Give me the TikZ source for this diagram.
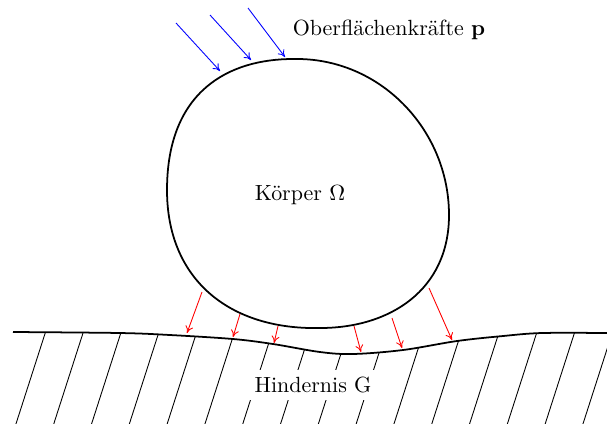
\documentclass[tikz,border=0pt]{standalone}
\usetikzlibrary{arrows.meta}
\begin{document}
\begin{tikzpicture}[x=0.455pt,y=-0.455pt,
  outline/.style={line width=0.8pt},
  hatch/.style={line width=0.4pt},
  pforce/.style={blue,line width=0.4pt,-{To[length=3.2pt,width=3.6pt]}},
  cforce/.style={red,line width=0.4pt,-{To[length=3.2pt,width=3.6pt]}},
  lbl/.style={font=\normalsize}]
\useasboundingbox (0,0) rectangle (607,423);
% hatching below obstacle surface
\begin{scope}
  \clip plot[smooth,tension=0.55] coordinates {(13,332) (120,333) (170,335) (233,339) (273,344) (320,352) (353,354) (403,350) (457,341) (503,336) (542,333) (607,333)} -- (607,430) -- (13,430) -- cycle;
  \foreach \i in {0,...,16} {
    \draw[hatch] ({14+37.8*\i},430) -- ({14+37.8*\i+2.2+29*1.2},315);
  }
\end{scope}
\draw[outline] plot[smooth,tension=0.55] coordinates {(13,332) (120,333) (170,335) (233,339) (273,344) (320,352) (353,354) (403,350) (457,341) (503,336) (542,333) (607,333)};
\node[lbl,fill=white] (g) at (313,385) {Hindernis G};
% body
\draw[outline,fill=white] (293,59) .. controls (380,57) and (449,130) .. (449,215)
  .. controls (449,290) and (390,328) .. (320,328)
  .. controls (230,330) and (167,280) .. (167,190)
  .. controls (167,90) and (230,59) .. (293,59) -- cycle;
\node[lbl] (omega) at (300,195) {Körper $\Omega$};
\node[lbl] (p) at (389,30) {Oberflächenkräfte $\mathbf{p}$};
% surface forces
\coordinate (b1s) at (176,23); \coordinate (b1e) at (220,71);
\coordinate (b2s) at (210,15); \coordinate (b2e) at (251,60);
\coordinate (b3s) at (248,8);  \coordinate (b3e) at (285,57);
\draw[pforce] (b1s) -- (b1e);
\draw[pforce] (b2s) -- (b2e);
\draw[pforce] (b3s) -- (b3e);
% contact forces
\coordinate (r1s) at (202,292); \coordinate (r1e) at (187,333);
\coordinate (r2s) at (240,314); \coordinate (r2e) at (233,337);
\coordinate (r3s) at (278,326); \coordinate (r3e) at (274,343);
\coordinate (r4s) at (354,326); \coordinate (r4e) at (361,352);
\coordinate (r5s) at (392,318); \coordinate (r5e) at (402,348);
\coordinate (r6s) at (429,288); \coordinate (r6e) at (452,340);
\foreach \k in {1,...,6} {\draw[cforce] (r\k s) -- (r\k e);}
\end{tikzpicture}
\end{document}
